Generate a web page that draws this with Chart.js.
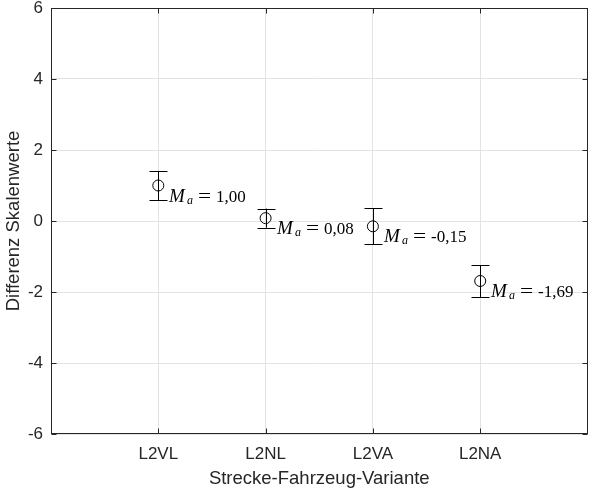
<!DOCTYPE html>
<html>
<head>
<meta charset="utf-8">
<script src="https://cdn.jsdelivr.net/npm/chart.js@4"></script>
<style>
html,body{margin:0;padding:0;background:#fff;}
#wrap{width:594px;height:493px;position:relative;}
</style>
</head>
<body>
<div id="wrap"><canvas id="c" width="594" height="493"></canvas></div>
<script>
const categories = ["L2VL", "L2NL", "L2VA", "L2NA"];
const means = [1.00, 0.08, -0.15, -1.69];
const errors = [0.41, 0.27, 0.51, 0.45];
const meanLabels = ["1,00", "0,08", "-0,15", "-1,69"];
const yTicks = [-6, -4, -2, 0, 2, 4, 6];

const points = categories.map((c, i) => ({x: i + 1, y: means[i]}));

const sans = "'Liberation Sans', Arial, Helvetica, sans-serif";
const serif = "'Liberation Serif', 'DejaVu Serif', serif";

const boxPlugin = {
  id: 'boxPlugin',
  afterDatasetsDraw(chart) {
    const ctx = chart.ctx;
    const xs = chart.scales.x, ys = chart.scales.y;
    const a = chart.chartArea;
    ctx.save();
    ctx.strokeStyle = '#000';
    ctx.lineWidth = 1;
    points.forEach((p, i) => {
      const px = Math.round(xs.getPixelForValue(p.x)) + 0.5;
      const yt = ys.getPixelForValue(p.y + errors[i]);
      const yb = ys.getPixelForValue(p.y - errors[i]);
      const cap = 9;
      ctx.beginPath();
      ctx.moveTo(px, yt); ctx.lineTo(px, yb);
      ctx.moveTo(px - cap, Math.round(yt) + 0.5); ctx.lineTo(px + cap, Math.round(yt) + 0.5);
      ctx.moveTo(px - cap, Math.round(yb) + 0.5); ctx.lineTo(px + cap, Math.round(yb) + 0.5);
      ctx.stroke();
      const py = ys.getPixelForValue(p.y);
      const base = py + 16;
      const x0 = px + 10.5;
      ctx.fillStyle = '#000';
      ctx.textBaseline = 'alphabetic';
      ctx.textAlign = 'left';
      ctx.font = 'italic 19px ' + serif;
      ctx.fillText('M', x0, base);
      ctx.font = 'italic 12px ' + serif;
      ctx.fillText('a', x0 + 18, base + 2);
      ctx.font = '18px ' + serif;
      ctx.save();
      ctx.translate(x0 + 29, base);
      ctx.scale(1.3, 1);
      ctx.fillText('=', 0, 0);
      ctx.restore();
      ctx.font = '17px ' + serif;
      ctx.fillText(meanLabels[i], x0 + 47, base);
    });
    ctx.strokeStyle = '#262626';
    ctx.lineWidth = 1;
    const L = Math.round(a.left) + 0.5, R = Math.round(a.right) - 0.5;
    const T = Math.round(a.top) + 0.5, B = Math.round(a.bottom) - 0.5;
    ctx.strokeRect(L, T, R - L, B - T);
    const tl = 5;
    ctx.beginPath();
    for (let v = 1; v <= 4; v++) {
      const x = Math.round(xs.getPixelForValue(v)) + 0.5;
      ctx.moveTo(x, B); ctx.lineTo(x, B - tl);
      ctx.moveTo(x, T); ctx.lineTo(x, T + tl);
    }
    yTicks.forEach(v => {
      const y = Math.round(ys.getPixelForValue(v)) + 0.5;
      ctx.moveTo(L, y); ctx.lineTo(L + tl, y);
      ctx.moveTo(R, y); ctx.lineTo(R - tl, y);
    });
    ctx.stroke();
    ctx.restore();
  }
};

new Chart(document.getElementById('c'), {
  type: 'scatter',
  data: {
    datasets: [{
      data: points,
      pointStyle: 'circle',
      pointRadius: 5.5,
      pointHoverRadius: 5.5,
      borderColor: '#000',
      backgroundColor: 'rgba(0,0,0,0)',
      borderWidth: 1,
      showLine: false
    }]
  },
  options: {
    responsive: false,
    animation: false,
    devicePixelRatio: 1,
    layout: {padding: {top: 0, right: -2, left: 0, bottom: 0}},
    plugins: {legend: {display: false}, tooltip: {enabled: false}},
    scales: {
      x: {
        type: 'linear',
        min: 0, max: 5,
        afterBuildTicks(scale) {
          scale.ticks = [0, 1, 2, 3, 4, 5].map(v => ({value: v}));
        },
        afterFit(scale) { scale.height = 59; scale.paddingRight = 0; scale.paddingLeft = 0; },
        grid: {color: '#e3e3e3', drawTicks: false},
        border: {display: false},
        ticks: {
          autoSkip: false,
          maxRotation: 0,
          padding: 10,
          color: '#262626',
          font: {family: sans, size: 17},
          callback: (v) => (v >= 1 && v <= 4) ? categories[v - 1] : ''
        },
        title: {
          display: true,
          text: 'Strecke-Fahrzeug-Variante',
          color: '#262626',
          font: {family: sans, size: 18.5},
          padding: {top: 4, bottom: 3}
        }
      },
      y: {
        type: 'linear',
        min: -6, max: 6,
        afterBuildTicks(scale) {
          scale.ticks = yTicks.map(v => ({value: v}));
        },
        afterFit(scale) { scale.width = 51; scale.paddingTop = 8; scale.paddingBottom = 0; },
        grid: {color: '#e3e3e3', drawTicks: false},
        border: {display: false},
        ticks: {
          padding: 8,
          color: '#262626',
          font: {family: sans, size: 17},
          callback: (v) => String(v)
        },
        title: {
          display: true,
          text: 'Differenz Skalenwerte',
          color: '#262626',
          font: {family: sans, size: 18.5},
          padding: {top: 3, bottom: 0}
        }
      }
    }
  },
  plugins: [boxPlugin]
});
</script>
</body>
</html>
